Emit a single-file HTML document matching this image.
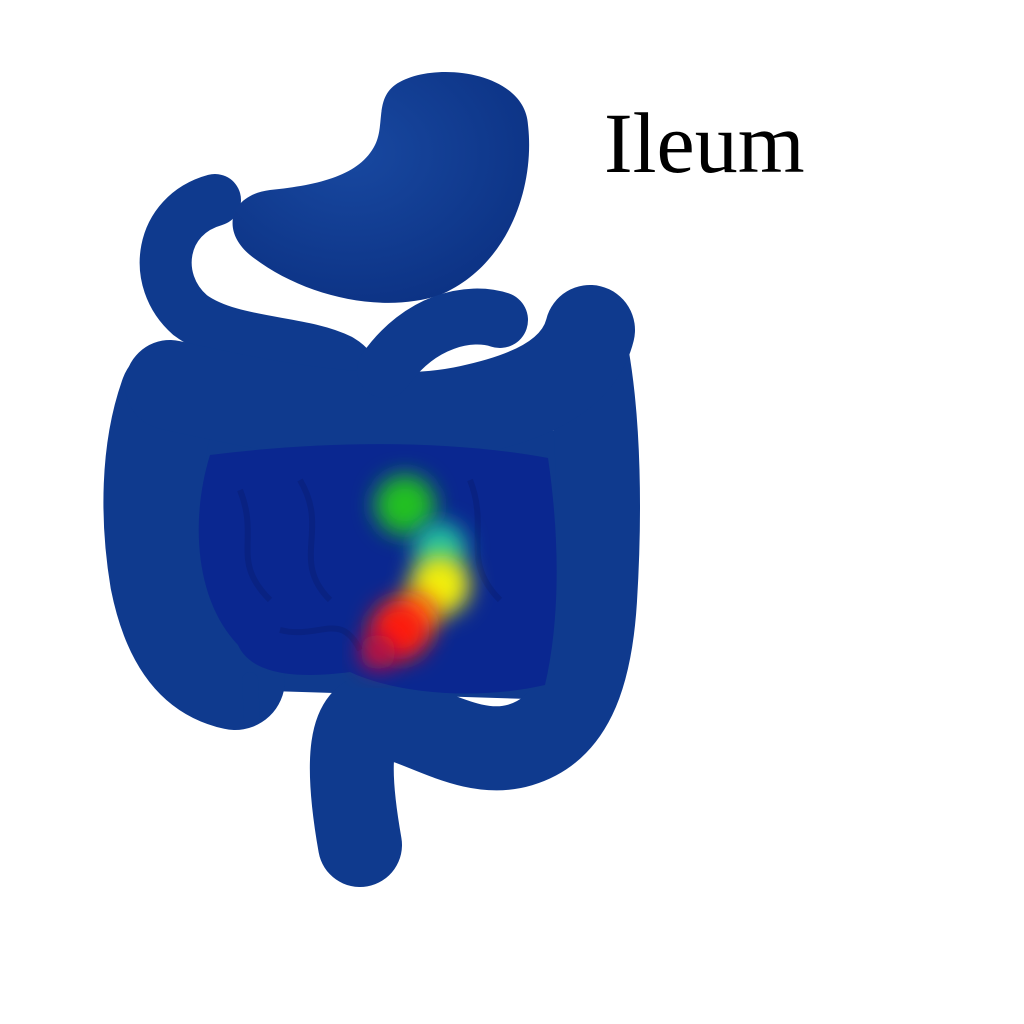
<!DOCTYPE html>
<html><head><meta charset="utf-8"><style>
html,body{margin:0;padding:0;background:#fff;width:1024px;height:1024px;overflow:hidden}
</style></head><body>
<svg width="1024" height="1024" viewBox="0 0 1024 1024">
<defs>
<radialGradient id="sh" cx="40%" cy="35%" r="70%"><stop offset="0" stop-color="#1848a0"/><stop offset="1" stop-color="#0c3284"/></radialGradient>
<filter id="bl" x="-50%" y="-50%" width="200%" height="200%"><feGaussianBlur stdDeviation="11"/></filter>
</defs>
<g>
<path d="M215,200 C160,215 150,280 190,315 C230,345 300,340 340,360 C360,372 355,385 345,390" fill="none" stroke="#0f3a8e" stroke-width="52" stroke-linecap="round"/>
<path d="M395,85 C430,60 525,70 528,125 C535,185 510,265 440,295 C380,315 300,295 250,255 C220,230 230,195 270,190 C320,185 360,175 375,145 C385,125 375,100 395,85 Z" fill="url(#sh)"/>
</g>
<g>
<path d="M160,420 C200,420 260,430 330,440 L560,430 L560,700 L240,690 Z" fill="#0f3a8e"/>
<path d="M170,395 C150,450 150,520 160,580 C170,630 190,670 235,680" fill="none" stroke="#0f3a8e" stroke-width="100" stroke-linecap="round"/>
<path d="M250,680 L252,718" stroke="#0f3a8e" stroke-width="16" stroke-linecap="round"/>
<path d="M585,345 C600,420 600,520 595,600 C590,680 570,730 520,745 C470,760 420,720 380,715 C350,712 345,760 360,845" fill="none" stroke="#0f3a8e" stroke-width="84" stroke-linecap="round"/>
<path d="M170,385 C260,405 380,430 470,410 C540,395 580,370 590,330" fill="none" stroke="#0f3a8e" stroke-width="90" stroke-linecap="round"/>
<path d="M385,370 C420,320 470,310 500,320" fill="none" stroke="#0f3a8e" stroke-width="56" stroke-linecap="round"/>
</g>
<g>
<path d="M210,455 C330,440 450,440 548,458 C560,540 560,620 545,685 C480,700 400,695 350,672 C290,680 250,672 238,645 C195,600 190,520 210,455 Z" fill="#0a2790"/>
<path d="M240,490 C260,540 230,560 270,600 M300,480 C330,530 290,560 330,600 M470,480 C490,530 460,560 500,600 M280,630 C320,640 340,610 360,650" fill="none" stroke="#08207a" stroke-width="6" opacity="0.6"/>
</g>
<g>
<circle cx="405" cy="505" r="30" fill="#22c020" filter="url(#bl)"/>
<circle cx="440" cy="548" r="26" fill="#20c0a0" filter="url(#bl)"/>
<circle cx="440" cy="585" r="30" fill="#f0f010" filter="url(#bl)"/>
<circle cx="418" cy="612" r="22" fill="#ff9010" filter="url(#bl)"/>
<circle cx="400" cy="630" r="30" fill="#ff1a10" filter="url(#bl)"/>
<circle cx="378" cy="652" r="18" fill="#c01040" filter="url(#bl)"/>
</g>
<text x="604" y="172" font-family="'Liberation Serif',serif" font-size="86" fill="#000">Ileum</text>
</svg>
</body></html>
